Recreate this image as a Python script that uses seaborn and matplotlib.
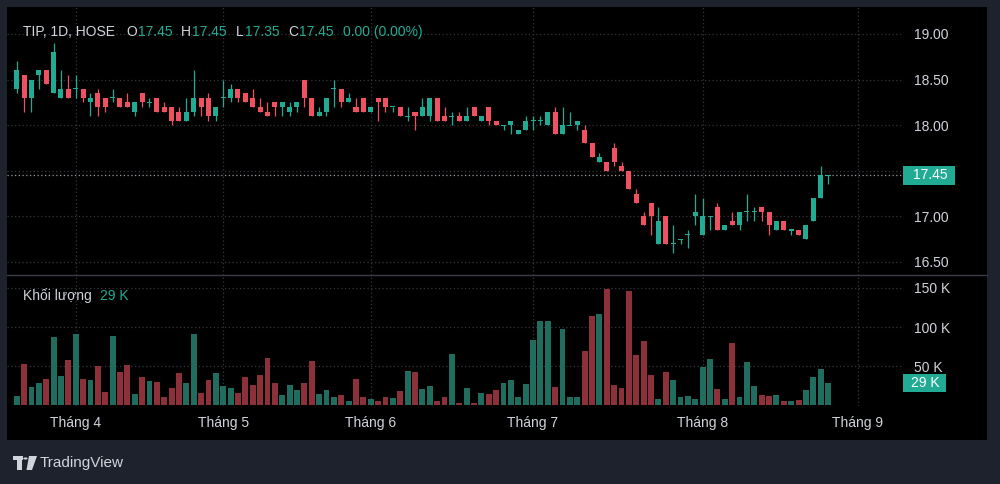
import numpy as np
import pandas as pd
import matplotlib
matplotlib.use("Agg")
import matplotlib.pyplot as plt
import matplotlib.transforms as mtransforms
from matplotlib.patches import Rectangle, Circle, Polygon
from matplotlib.lines import Line2D
import seaborn as sns

# ---------------- data ----------------
opens = [18.40, 18.55, 18.30, 18.55, 18.60, 18.35, 18.30, 18.40, 18.40, 18.40,
         18.25, 18.35, 18.30, 18.30, 18.30, 18.25, 18.15, 18.35, 18.25, 18.30,
         18.20, 18.20, 18.15, 18.05, 18.15, 18.30, 18.30, 18.10, 18.30, 18.30,
         18.40, 18.35, 18.30, 18.20, 18.15, 18.25, 18.20, 18.15, 18.20, 18.50,
         18.30, 18.10, 18.15, 18.40, 18.40, 18.25, 18.20, 18.30, 18.15, 18.30,
         18.30, 18.20, 18.20, 18.10, 18.15, 18.10, 18.10, 18.30, 18.10, 18.10,
         18.10, 18.05, 18.20, 18.05, 18.20, 18.05, 18.00, 18.00, 17.90, 17.95,
         18.05, 18.05, 18.00, 18.15, 17.90, 18.00, 18.00, 17.95, 17.80, 17.60,
         17.60, 17.75, 17.55, 17.50, 17.25, 17.00, 17.15, 16.70, 17.00, 16.70,
         16.75, 16.80, 17.00, 16.80, 17.00, 17.10, 16.85, 16.95, 16.90, 17.05,
         17.05, 17.10, 17.05, 16.85, 16.95, 16.85, 16.85, 16.75, 16.95, 17.20,
         17.45]
highs = [18.70, 18.55, 18.50, 18.60, 18.60, 18.90, 18.60, 18.55, 18.55, 18.40,
         18.35, 18.40, 18.30, 18.40, 18.30, 18.35, 18.25, 18.35, 18.30, 18.30,
         18.25, 18.20, 18.20, 18.30, 18.60, 18.30, 18.35, 18.20, 18.50, 18.45,
         18.40, 18.35, 18.40, 18.30, 18.25, 18.25, 18.25, 18.25, 18.25, 18.50,
         18.30, 18.20, 18.30, 18.50, 18.40, 18.35, 18.30, 18.30, 18.20, 18.30,
         18.30, 18.20, 18.20, 18.20, 18.15, 18.30, 18.30, 18.30, 18.20, 18.15,
         18.15, 18.20, 18.20, 18.10, 18.20, 18.05, 18.00, 18.05, 17.95, 18.10,
         18.10, 18.10, 18.15, 18.20, 18.20, 18.15, 18.05, 18.00, 17.80, 17.70,
         17.60, 17.80, 17.60, 17.50, 17.30, 17.05, 17.15, 17.10, 17.00, 16.90,
         16.75, 16.85, 17.25, 17.20, 17.00, 17.15, 16.90, 17.05, 17.05, 17.25,
         17.10, 17.10, 17.05, 16.95, 16.95, 16.85, 16.85, 16.90, 17.20, 17.55,
         17.45]
lows = [18.35, 18.15, 18.15, 18.40, 18.45, 18.35, 18.30, 18.30, 18.30, 18.25,
        18.10, 18.10, 18.15, 18.25, 18.20, 18.20, 18.10, 18.20, 18.20, 18.15,
        18.15, 18.00, 18.05, 18.05, 18.10, 18.10, 18.05, 18.05, 18.20, 18.25,
        18.25, 18.25, 18.20, 18.15, 18.10, 18.10, 18.10, 18.10, 18.15, 18.20,
        18.10, 18.10, 18.10, 18.20, 18.20, 18.25, 18.15, 18.15, 18.15, 18.05,
        18.15, 18.15, 18.10, 18.05, 17.95, 18.10, 18.05, 18.05, 18.05, 18.00,
        18.05, 18.05, 18.10, 18.05, 18.00, 18.00, 17.95, 17.90, 17.90, 17.95,
        17.95, 18.00, 18.00, 17.90, 17.90, 18.00, 17.95, 17.80, 17.65, 17.60,
        17.50, 17.55, 17.50, 17.30, 17.15, 16.90, 16.80, 16.70, 16.70, 16.60,
        16.70, 16.65, 16.90, 16.80, 16.85, 16.85, 16.85, 16.90, 16.85, 16.95,
        16.95, 16.95, 16.80, 16.85, 16.85, 16.80, 16.80, 16.75, 16.95, 17.20,
        17.35]
closes = [18.60, 18.30, 18.50, 18.60, 18.45, 18.80, 18.40, 18.30, 18.40, 18.30,
          18.30, 18.20, 18.20, 18.30, 18.20, 18.20, 18.25, 18.25, 18.25, 18.15,
          18.15, 18.05, 18.05, 18.15, 18.30, 18.20, 18.10, 18.20, 18.30, 18.40,
          18.30, 18.25, 18.20, 18.15, 18.10, 18.20, 18.25, 18.20, 18.25, 18.30,
          18.10, 18.15, 18.30, 18.40, 18.25, 18.30, 18.15, 18.15, 18.20, 18.25,
          18.20, 18.20, 18.10, 18.10, 18.10, 18.20, 18.30, 18.05, 18.05, 18.10,
          18.05, 18.10, 18.10, 18.10, 18.05, 18.00, 18.00, 18.05, 17.95, 18.05,
          18.05, 18.05, 18.15, 17.90, 18.00, 18.00, 18.05, 17.80, 17.65, 17.65,
          17.50, 17.60, 17.50, 17.30, 17.15, 16.90, 17.00, 16.95, 16.70, 16.70,
          16.75, 16.80, 17.05, 17.00, 17.00, 16.85, 16.90, 16.90, 17.05, 17.05,
          17.05, 17.05, 16.90, 16.95, 16.85, 16.85, 16.80, 16.90, 17.20, 17.45,
          17.45]
volumes_k = [12, 53, 23, 28, 34, 87, 38, 58, 91, 34,
             32, 50, 17, 89, 42, 52, 14, 36, 31, 30,
             10, 22, 41, 29, 91, 16, 32, 41, 25, 22,
             16, 36, 26, 39, 60, 29, 13, 26, 20, 29,
             56, 14, 19, 11, 13, 5, 33, 10, 8, 6,
             11, 9, 18, 44, 42, 21, 25, 5.5, 10, 65,
             2.5, 22, 2.5, 16, 14, 19, 29, 32, 11, 27,
             83, 108, 108, 24, 98, 10, 11, 70, 114, 117,
             149, 26, 22, 146, 64, 82, 39, 8.5, 43, 32,
             11, 12, 8.5, 49, 59, 21, 8.5, 80, 10, 55,
             25, 13, 12, 13, 5, 5, 6.4, 20, 36, 47,
             29]
month_starts = [8, 28, 48, 70, 93, 114]
month_labels = ["Tháng 4", "Tháng 5", "Tháng 6", "Tháng 7", "Tháng 8", "Tháng 9"]
price_ticks = [16.5, 17.0, 17.5, 18.0, 18.5, 19.0]
volume_ticks = [50, 100, 150]
symbol_label = "TIP, 1D, HOSE"
volume_title = "Khối lượng"
brand = "TradingView"

# ---------------- style ----------------
BG = "#1e222d"
TXT = "#d1d4dc"
GREEN = "#22ab94"
RED = "#ef5062"
VGREEN = "#206d60"
VRED = "#8c303a"
GRID = "#33363e"

sns.set_theme(style="dark", rc={"axes.facecolor": "black", "figure.facecolor": BG})
plt.rcParams["font.family"] = ["Liberation Sans", "DejaVu Sans"]

W, H = 1000, 484
fig = plt.figure(figsize=(10, 4.84), dpi=100, facecolor=BG)


def fx(px):
    return px / W


def fy(py):
    return 1 - py / H


fig.patches.append(Rectangle((fx(7), fy(440)), (987 - 7) / W, (440 - 7) / H,
                             transform=fig.transFigure, facecolor="black",
                             edgecolor="none", zorder=-5))

ax = fig.add_axes([fx(7), fy(275), 896 / W, (275 - 7) / H])
axv = fig.add_axes([fx(7), fy(406), 896 / W, (406 - 275) / H])

o = np.array(opens); h = np.array(highs); l = np.array(lows); c = np.array(closes)
n = len(o)
idx = np.arange(n)
up = c >= o
cols = np.where(up, GREEN, RED)

# ---------------- candles ----------------
ax.vlines(idx, l, h, colors=cols, linewidth=0.9, zorder=3)
body = np.abs(c - o)
min_h = 0.012
bh = np.maximum(body, min_h)
bottom = np.minimum(o, c) - (bh - body) / 2
ax.bar(idx, bh, bottom=bottom, width=0.68, color=cols, linewidth=0, zorder=4)

xlim = (-1.315, 120.16)
ax.set_xlim(*xlim)
ax.set_ylim(16.357, 19.296)
ax.set_xticks(month_starts)
ax.tick_params(axis="x", labelbottom=False, length=0)
ax.yaxis.tick_right()
ax.set_yticks(price_ticks)
last = closes[-1]
ax.set_yticklabels(["" if abs(t - last) < 0.15 else f"{t:.2f}" for t in price_ticks])
ax.tick_params(axis="y", length=0, pad=8, labelsize=10, labelcolor=TXT)
ax.grid(True, color=GRID, linestyle=(0, (1, 2)), linewidth=0.9)
ax.set_axisbelow(True)
for s in ax.spines.values():
    s.set_visible(False)

ax.axhline(last, color="#9a9da6", linestyle=(0, (1, 2)), linewidth=0.9, zorder=2)
trans = mtransforms.blended_transform_factory(ax.transAxes, ax.transData)
bh_price = 19 / 91.2
ax.add_patch(Rectangle((1.0, last - bh_price / 2), 52 / 896, bh_price, transform=trans,
                       facecolor=GREEN, edgecolor="none", clip_on=False, zorder=10))
ax.text(1.0 + 27 / 896, last, f"{last:.2f}", transform=trans, ha="center", va="center",
        color="white", fontsize=10, clip_on=False, zorder=11)

# ---------------- volume ----------------
vdf = pd.DataFrame({"i": idx, "vol": volumes_k, "dir": np.where(up, "up", "down")})
sns.barplot(data=vdf, x="i", y="vol", hue="dir", palette={"up": VGREEN, "down": VRED},
            native_scale=True, dodge=False, legend=False, errorbar=None, width=0.8,
            saturation=1, linewidth=0, ax=axv)
axv.set_xlim(*xlim)
axv.set_ylim(-0.9, 166.6)
axv.set_xlabel(""); axv.set_ylabel("")
axv.set_xticks(month_starts)
axv.set_xticklabels(month_labels)
axv.tick_params(axis="x", length=0, pad=7, labelsize=10, labelcolor=TXT)
axv.yaxis.tick_right()
axv.set_yticks(volume_ticks)
axv.set_yticklabels([f"{t} K" for t in volume_ticks])
axv.tick_params(axis="y", length=0, pad=8, labelsize=10, labelcolor=TXT)
axv.grid(True, color=GRID, linestyle=(0, (1, 2)), linewidth=0.9)
axv.set_axisbelow(True)
for s in axv.spines.values():
    s.set_visible(False)

lastv = volumes_k[-1]
vtrans = mtransforms.blended_transform_factory(axv.transAxes, axv.transData)
bh_vol = 18 / 0.782
axv.add_patch(Rectangle((1.0, lastv - bh_vol / 2), 43 / 896, bh_vol, transform=vtrans,
                        facecolor=GREEN, edgecolor="none", clip_on=False, zorder=10))
axv.text(1.0 + 22 / 896, lastv, f"{lastv:g} K", transform=vtrans, ha="center", va="center",
         color="white", fontsize=10, clip_on=False, zorder=11)

# pane divider
fig.add_artist(Line2D([fx(7), fx(987)], [fy(275), fy(275)], transform=fig.transFigure,
                      color="#3a3d46", linewidth=1, zorder=20))

# ---------------- header texts ----------------
fig.canvas.draw()
renderer = fig.canvas.get_renderer()


def chain(pieces, x0, y0, size=10):
    x = x0
    for text, color, gap in pieces:
        t = fig.text(fx(x), fy(y0), text, color=color, fontsize=size, ha="left", va="center",
                     zorder=30)
        bb = t.get_window_extent(renderer)
        x = x + bb.width + gap


chg = closes[-1] - closes[-2]
pct = chg / closes[-2] * 100
chain([
    (symbol_label, TXT, 11),
    ("O", TXT, 1), (f"{opens[-1]:.2f}", GREEN, 9),
    ("H", TXT, 1), (f"{highs[-1]:.2f}", GREEN, 9),
    ("L", TXT, 1), (f"{lows[-1]:.2f}", GREEN, 9),
    ("C", TXT, 1), (f"{closes[-1]:.2f}", GREEN, 9),
    (f"{chg:.2f} ({pct:.2f}%)", GREEN, 0),
], 23, 32)

chain([(volume_title, TXT, 8), (f"{lastv:g} K", GREEN, 0)], 23, 296)

# ---------------- brand ----------------
fig.patches.append(Rectangle((fx(13), fy(460)), 10 / W, 4 / H, transform=fig.transFigure,
                             facecolor=TXT, edgecolor="none"))
fig.patches.append(Rectangle((fx(17), fy(470)), 5 / W, 14 / H, transform=fig.transFigure,
                             facecolor=TXT, edgecolor="none"))
fig.patches.append(Circle((fx(25.5), fy(458.5)), 2.2 / W, transform=fig.transFigure,
                          facecolor=TXT, edgecolor="none"))
fig.patches.append(Polygon([(fx(29), fy(456)), (fx(37), fy(456)), (fx(32), fy(470)),
                            (fx(26.5), fy(470))], closed=True, transform=fig.transFigure,
                           facecolor=TXT, edgecolor="none"))
fig.text(fx(40), fy(463), brand, color=TXT, fontsize=11, ha="left", va="center")

fig.savefig("out.png", dpi=100, facecolor=BG)
